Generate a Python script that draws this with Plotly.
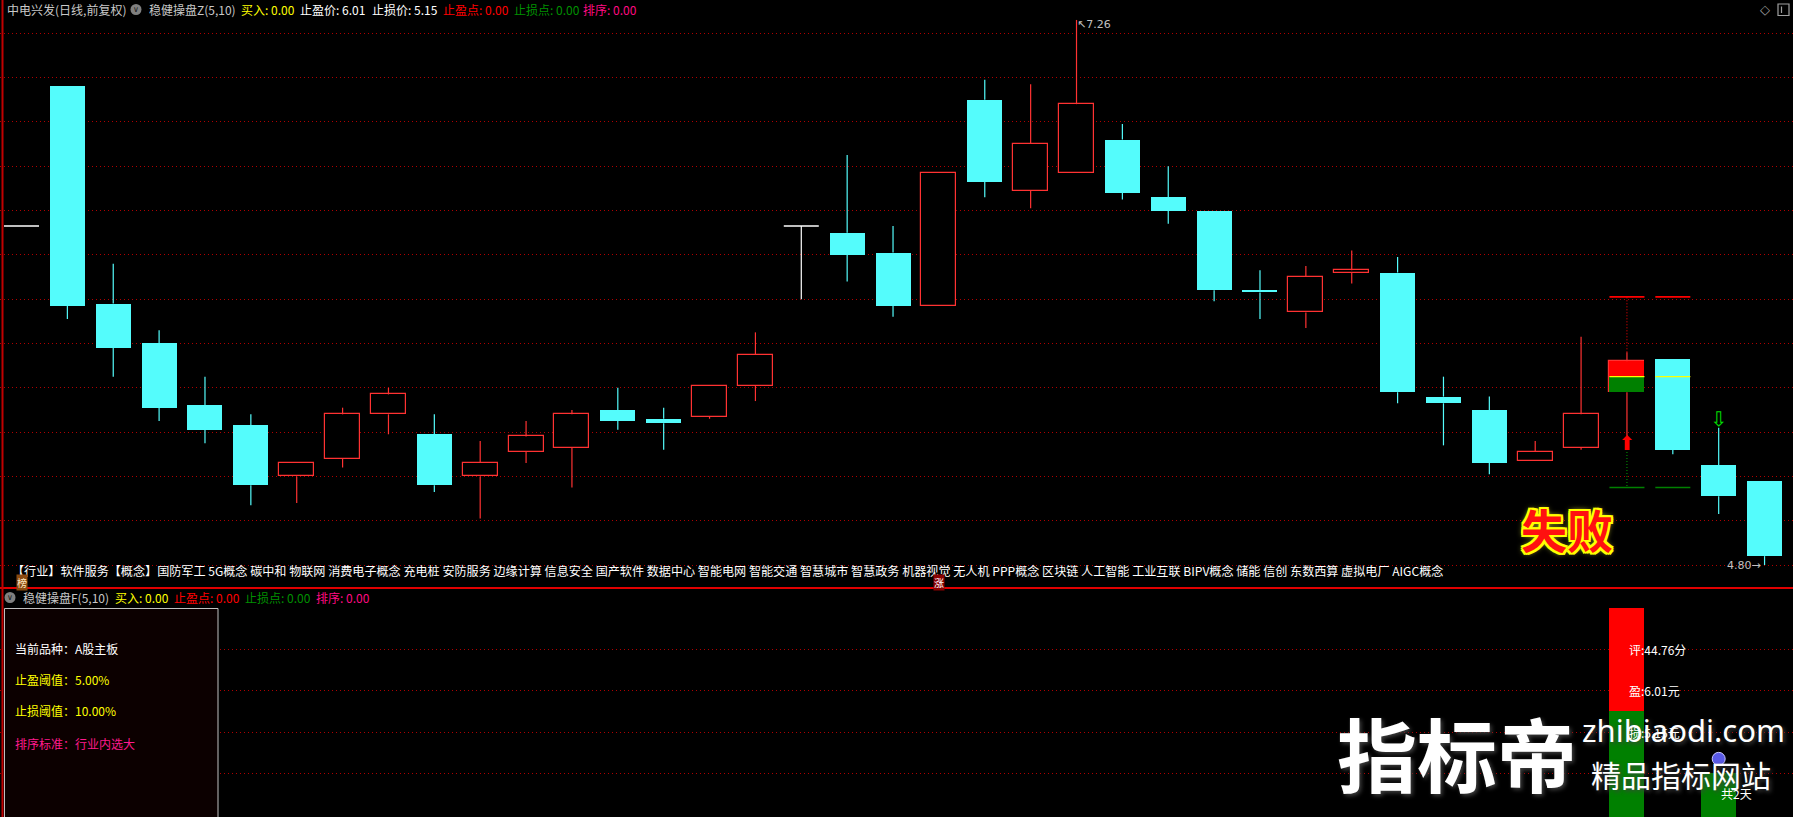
import plotly.graph_objects as go

W, H = 1793, 817

# ---------------- data ----------------
idx = list(range(39))
opens = [6.33, 6.96, 5.98, 5.80, 5.52, 5.43, 5.20, 5.28, 5.48, 5.39,
         5.20, 5.31, 5.33, 5.50, 5.46, 5.47, 5.61, 6.33, 6.30, 6.21,
         5.97, 6.90, 6.49, 6.57, 6.72, 6.46, 6.40, 6.04, 5.94, 6.12,
         6.12, 5.56, 5.50, 5.27, 5.33, 5.58, 5.73, 5.25, 5.18]
highs = [6.33, 6.96, 6.16, 5.86, 5.65, 5.48, 5.26, 5.51, 5.60, 5.48,
         5.36, 5.45, 5.50, 5.60, 5.51, 5.61, 5.85, 6.33, 6.65, 6.33,
         6.57, 6.99, 6.97, 7.26, 6.79, 6.60, 6.40, 6.13, 6.15, 6.22,
         6.19, 5.65, 5.56, 5.36, 5.83, 5.76, 5.73, 5.42, 5.18]
lows = [6.33, 5.91, 5.65, 5.45, 5.35, 5.07, 5.08, 5.24, 5.39, 5.13,
        5.01, 5.26, 5.15, 5.41, 5.32, 5.46, 5.54, 6.00, 6.08, 5.92,
        5.97, 6.46, 6.41, 6.57, 6.45, 6.34, 5.99, 5.91, 5.87, 6.07,
        5.53, 5.34, 5.21, 5.27, 5.32, 5.38, 5.30, 5.03, 4.80]
closes = [6.33, 5.97, 5.78, 5.51, 5.41, 5.16, 5.26, 5.48, 5.57, 5.16,
          5.26, 5.38, 5.48, 5.45, 5.44, 5.61, 5.75, 6.33, 6.20, 5.97,
          6.57, 6.53, 6.70, 6.88, 6.48, 6.40, 6.04, 6.03, 6.10, 6.13,
          5.58, 5.53, 5.26, 5.31, 5.48, 5.72, 5.32, 5.11, 4.84]

# trade signal (indicator overlay)
trade_idx = [35, 36]
buy_price = 5.72
mid_price = 5.65
signal_low = 5.58
take_profit = 6.01
stop_loss = 5.15
buy_arrow_idx, buy_arrow_y = 35, 5.34
sell_arrow_idx, sell_arrow_y = 37, 5.45
high_label_idx, high_label = 23, 7.26
low_label_idx, low_label = 38, 4.80

# lower panel
score_idx = [35]
score_top = [100]
score_split = [50]
days_idx = [37]
days_top = [20]
score_labels = ["评:44.76分", "盈:6.01元", "损:5.15元"]
score_label_y = [80, 60, 40]
days_label = "共2天"

main_grid = [4.8, 5.0, 5.2, 5.4, 5.6, 5.8, 6.0, 6.2, 6.4, 6.6, 6.8, 7.0, 7.2]
low_grid = [20, 40, 60, 80]

concepts = ("【行业】软件服务【概念】国防军工 5G概念 碳中和 物联网 消费电子概念 充电桩 安防服务 "
            "边缘计算 信息安全 国产软件 数据中心 智能电网 智能交通 智慧城市 智慧政务 机器视觉 无人机 "
            "PPP概念 区块链 人工智能 工业互联 BIPV概念 储能 信创 东数西算 虚拟电厂 AIGC概念")

# ---------------- style ----------------
UP = "#FF3232"
DOWN = "#54FCFC"
FLAT = "#FFFFFF"
GRID = "#B00000"
CJK = "Noto Sans CJK SC"
BW = 0.763  # body width in candle units


def pxx(px):
    return px / W


def pxy(py):
    return 1 - py / H


fig = go.Figure()

up_i = [i for i in idx if closes[i] > opens[i]]
dn_i = [i for i in idx if closes[i] < opens[i]]
fl_i = [i for i in idx if closes[i] == opens[i]]


def wick_xy(ids):
    xs, ys = [], []
    for i in ids:
        top = max(opens[i], closes[i])
        bot = min(opens[i], closes[i])
        if highs[i] > top:
            xs += [i, i, None]
            ys += [top, highs[i], None]
        if lows[i] < bot:
            xs += [i, i, None]
            ys += [bot, lows[i], None]
    return xs, ys


for ids, col in [(up_i, UP), (dn_i, DOWN), (fl_i, FLAT)]:
    xs, ys = wick_xy(ids)
    fig.add_trace(go.Scatter(x=xs, y=ys, mode="lines", line=dict(color=col, width=1.2),
                             hoverinfo="skip", showlegend=False))

fx, fy = [], []
for i in fl_i:
    fx += [i - BW / 2, i + BW / 2, None]
    fy += [opens[i], opens[i], None]
fig.add_trace(go.Scatter(x=fx, y=fy, mode="lines", line=dict(color=FLAT, width=1.6),
                         hoverinfo="skip", showlegend=False))

fig.add_trace(go.Bar(x=up_i, base=[opens[i] for i in up_i],
                     y=[closes[i] - opens[i] for i in up_i], width=BW,
                     marker=dict(color="#000000", line=dict(color=UP, width=1.2)),
                     hoverinfo="skip", showlegend=False))
fig.add_trace(go.Bar(x=dn_i, base=[closes[i] for i in dn_i],
                     y=[opens[i] - closes[i] for i in dn_i], width=BW,
                     marker=dict(color=DOWN, line=dict(color=DOWN, width=0)),
                     hoverinfo="skip", showlegend=False))

fig.add_trace(go.Bar(x=[trade_idx[0]], base=[mid_price], y=[buy_price - mid_price], width=BW,
                     marker=dict(color="#FF0000", line=dict(width=0)), hoverinfo="skip", showlegend=False))
fig.add_trace(go.Bar(x=[trade_idx[0]], base=[signal_low], y=[mid_price - signal_low], width=BW,
                     marker=dict(color="#008000", line=dict(width=0)), hoverinfo="skip", showlegend=False))

for price, col, w in [(mid_price, "#FFFF00", 1.2), (take_profit, "#FF0000", 1.6), (stop_loss, "#008000", 1.6)]:
    xs, ys = [], []
    for i in trade_idx:
        xs += [i - BW / 2, i + BW / 2, None]
        ys += [price, price, None]
    fig.add_trace(go.Scatter(x=xs, y=ys, mode="lines", line=dict(color=col, width=w),
                             hoverinfo="skip", showlegend=False))

fig.add_trace(go.Scatter(x=[35, 35], y=[highs[35], take_profit], mode="lines",
                         line=dict(color="#FF0000", width=1, dash="1px,2px"), hoverinfo="skip", showlegend=False))
fig.add_trace(go.Scatter(x=[35, 35], y=[buy_arrow_y - 0.03, stop_loss], mode="lines",
                         line=dict(color="#00A000", width=1, dash="1px,2px"), hoverinfo="skip", showlegend=False))

# signal arrows (block arrows as glyphs)
fig.add_trace(go.Scatter(x=[buy_arrow_idx], y=[buy_arrow_y], mode="text", text=["⬆"],
                         textfont=dict(family="DejaVu Sans", size=20, color="#FF0000"),
                         hoverinfo="skip", showlegend=False))
fig.add_trace(go.Scatter(x=[sell_arrow_idx], y=[sell_arrow_y], mode="text", text=["⇩"],
                         textfont=dict(family="DejaVu Sans", size=20, color="#00E000"),
                         hoverinfo="skip", showlegend=False))

# ---------------- lower panel ----------------
fig.add_trace(go.Bar(x=score_idx, base=score_split, y=[t - s for t, s in zip(score_top, score_split)],
                     width=BW, marker=dict(color="#FF0000", line=dict(width=0)),
                     xaxis="x2", yaxis="y2", hoverinfo="skip", showlegend=False))
fig.add_trace(go.Bar(x=score_idx, base=[-5], y=[s + 5 for s in score_split],
                     width=BW, marker=dict(color="#008000", line=dict(width=0)),
                     xaxis="x2", yaxis="y2", hoverinfo="skip", showlegend=False))
fig.add_trace(go.Bar(x=days_idx, base=[-5], y=[d + 5 for d in days_top],
                     width=BW, marker=dict(color="#008000", line=dict(width=0)),
                     xaxis="x2", yaxis="y2", hoverinfo="skip", showlegend=False))
fig.add_trace(go.Scatter(x=[days_idx[0]], y=[27], mode="markers",
                         marker=dict(symbol="circle", size=13, color="#5A5AE6", line=dict(color="#C8C8FF", width=1)),
                         xaxis="x2", yaxis="y2", hoverinfo="skip", showlegend=False))

annotations = []


def ann(px, py, text, color, size=12, xanchor="left", family=CJK, **kw):
    d = dict(x=pxx(px), y=pxy(py), xref="paper", yref="paper", text=text, showarrow=False,
             xanchor=xanchor, yanchor="middle", font=dict(family=family, size=size, color=color))
    d["font"].update(kw.pop("font_extra", {}))
    d.update(kw)
    annotations.append(d)


ann(5, 9.5, "中电兴发(日线,前复权)", "#C8C8C8")
ann(147, 9.5, "稳健操盘Z(5,10)", "#C8C8C8")
ann(239, 9.5, "买入: 0.00", "#FFFF00")
ann(298, 9.5, "止盈价: 6.01", "#FFFFFF")
ann(370, 9.5, "止损价: 5.15", "#FFFFFF")
ann(441, 9.5, "止盈点: 0.00", "#FF0000")
ann(512, 9.5, "止损点: 0.00", "#009000")
ann(581, 9.5, "排序: 0.00", "#FF0A82")
ann(136, 9.5, "∨", "#1A1A1A", size=8, xanchor="center", family="DejaVu Sans")
ann(1765, 9.5, "◇", "#A0A0A0", size=13, xanchor="center", family="DejaVu Sans")

ann(21, 597.5, "稳健操盘F(5,10)", "#C8C8C8")
ann(113, 597.5, "买入: 0.00", "#FFFF00")
ann(172, 597.5, "止盈点: 0.00", "#FF0000")
ann(243, 597.5, "止损点: 0.00", "#009000")
ann(314, 597.5, "排序: 0.00", "#FF0A82")
ann(10, 597.5, "∨", "#1A1A1A", size=8, xanchor="center", family="DejaVu Sans")

ann(10, 570, concepts, "#FFFFFF", size=12.1)

ann(13, 648, "当前品种：A股主板", "#FFFFFF")
ann(13, 679, "止盈阈值：5.00%", "#FFFF00")
ann(13, 710, "止损阈值：10.00%", "#FFFF00")
ann(13, 743, "排序标准：行业内选大", "#FF1A8C")

ann(1567, 528, "失败", "#FF1010", size=46, xanchor="center",
    font_extra=dict(weight="bold",
                    shadow="2px 0 0 #FFFF00, -2px 0 0 #FFFF00, 0 2px 0 #FFFF00, 0 -2px 0 #FFFF00, "
                           "2px 2px 0 #FFFF00, -2px -2px 0 #FFFF00, 2px -2px 0 #FFFF00, -2px 2px 0 #FFFF00, "
                           "0 0 6px #FFFF40"))

ann(1457, 751, "指标帝", "#FFFFFF", size=80, xanchor="center",
    font_extra=dict(weight="bold", shadow="2px 2px 4px #404040"))
ann(1683, 730, "zhibiaodi.com", "#FFFFFF", size=31, xanchor="center", family="Noto Sans",
    font_extra=dict(shadow="2px 2px 4px #404040"))
ann(1681, 774, "精品指标网站", "#FFFFFF", size=30, xanchor="center",
    font_extra=dict(shadow="2px 2px 4px #404040"))

annotations.append(dict(x=high_label_idx, y=high_label, xref="x", yref="y", text="↖" + f"{high_label:.2f}",
                        showarrow=False, xanchor="left", yanchor="middle", xshift=-2, yshift=-5,
                        font=dict(family="DejaVu Sans", size=11, color="#C0C0C0")))
annotations.append(dict(x=low_label_idx, y=low_label, xref="x", yref="y", text=f"{low_label:.2f}→",
                        showarrow=False, xanchor="right", yanchor="middle", xshift=-2,
                        font=dict(family="DejaVu Sans", size=11, color="#C0C0C0")))
annotations.append(dict(x=0, y=pxy(582), xref="x", yref="paper", text="榜", showarrow=False,
                        xanchor="center", yanchor="middle", bgcolor="#8A4A10", borderpad=0,
                        font=dict(family=CJK, size=10, color="#FFE8C0")))
annotations.append(dict(x=20, y=pxy(582), xref="x", yref="paper", text="涨", showarrow=False,
                        xanchor="center", yanchor="middle", bgcolor="#8A0000", borderpad=0,
                        font=dict(family=CJK, size=10, color="#FFFFFF")))
for t, yv in zip(score_labels, score_label_y):
    annotations.append(dict(x=score_idx[0], y=yv, xref="x2", yref="y2", text=t, showarrow=False,
                            xanchor="left", yanchor="middle",
                            font=dict(family=CJK, size=12, color="#FFFFFF")))
annotations.append(dict(x=days_idx[0], y=10, xref="x2", yref="y2", text=days_label, showarrow=False,
                        xanchor="left", yanchor="middle", font=dict(family=CJK, size=12, color="#FFFFFF")))

shapes = [
    dict(type="line", xref="paper", yref="paper", x0=0, x1=1, y0=pxy(588), y1=pxy(588),
         line=dict(color="#E00000", width=2)),
    dict(type="line", xref="paper", yref="paper", x0=pxx(2.5), x1=pxx(2.5), y0=0, y1=1,
         line=dict(color="#C00000", width=2)),
    dict(type="rect", xref="paper", yref="paper", x0=pxx(4.5), x1=pxx(218), y0=pxy(830), y1=pxy(608.5),
         fillcolor="#0C0000", line=dict(color="#C0C0C0", width=1), layer="above"),
    dict(type="circle", xref="paper", yref="paper", x0=pxx(130.5), x1=pxx(141.5), y0=pxy(15), y1=pxy(4),
         fillcolor="#808080", line=dict(width=0)),
    dict(type="circle", xref="paper", yref="paper", x0=pxx(4.5), x1=pxx(15.5), y0=pxy(603), y1=pxy(592),
         fillcolor="#808080", line=dict(width=0)),
    # top-right panel icon
    dict(type="rect", xref="paper", yref="paper", x0=pxx(1778), x1=pxx(1789), y0=pxy(15.5), y1=pxy(4),
         line=dict(color="#A0A0A0", width=1.2), fillcolor="rgba(0,0,0,0)"),
    dict(type="line", xref="paper", yref="paper", x0=pxx(1781.5), x1=pxx(1781.5), y0=pxy(13), y1=pxy(6.5),
         line=dict(color="#A0A0A0", width=1.2)),
]

x_range = [-0.4687, 38.62]
fig.update_layout(
    width=W, height=H, margin=dict(l=0, r=0, t=0, b=0),
    paper_bgcolor="#000000", plot_bgcolor="#000000",
    barmode="overlay", bargap=0, showlegend=False,
    xaxis=dict(domain=[0, 1], range=x_range, visible=False, anchor="y"),
    yaxis=dict(domain=[1 - 587 / H, 1 - 15 / H], range=[4.7007, 7.2824], tickvals=main_grid,
               showticklabels=False, ticks="", showgrid=True, gridcolor=GRID, gridwidth=1,
               griddash="1px,3px", zeroline=False, showline=False, anchor="x"),
    xaxis2=dict(domain=[0, 1], range=x_range, visible=False, anchor="y2", matches="x"),
    yaxis2=dict(domain=[0, 1 - 588 / H], range=[-1.16, 109.73], tickvals=low_grid,
                showticklabels=False, ticks="", showgrid=True, gridcolor=GRID, gridwidth=1,
                griddash="1px,3px", zeroline=False, showline=False, anchor="x2"),
    annotations=annotations, shapes=shapes,
    font=dict(family=CJK, color="#FFFFFF"),
)

fig.write_html("out.html", config={"displayModeBar": False},
               post_script="document.body.style.margin='0px';document.body.style.background='#000';"
                           "document.body.style.overflow='hidden';")
